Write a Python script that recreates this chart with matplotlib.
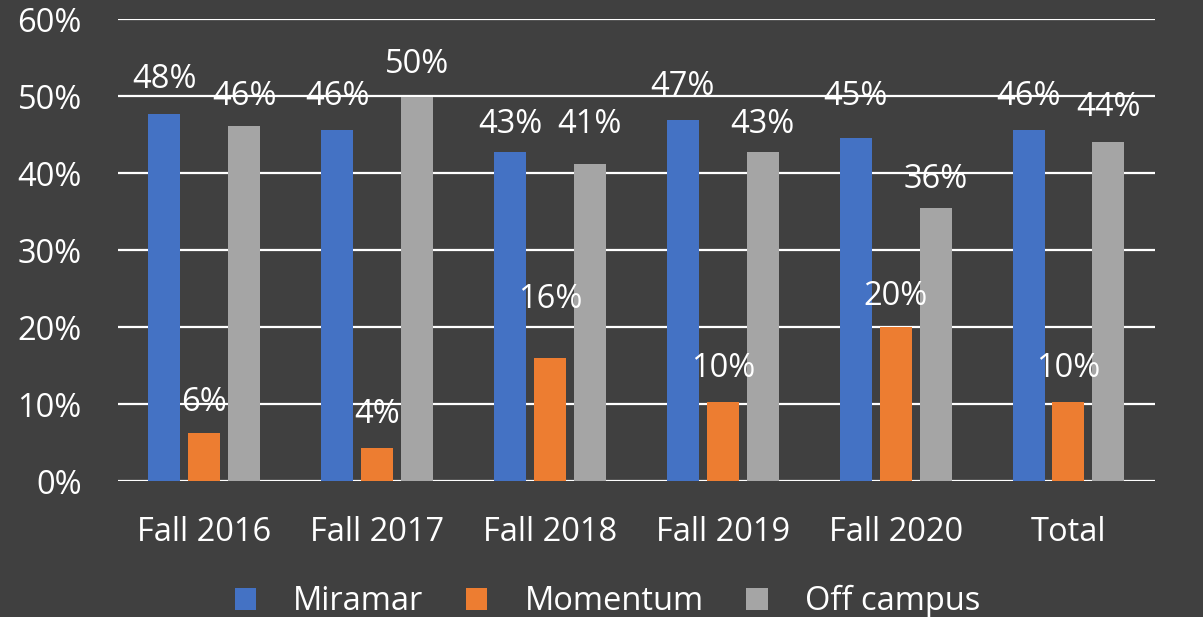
import matplotlib
matplotlib.use("Agg")
import matplotlib.pyplot as plt
import numpy as np

categories = ["Fall 2016", "Fall 2017", "Fall 2018", "Fall 2019", "Fall 2020", "Total"]
miramar    = [47.7, 45.6, 42.7, 46.9, 44.6, 45.6]
momentum   = [6.2, 4.3, 16.0, 10.3, 20.0, 10.3]
off_campus = [46.1, 49.9, 41.2, 42.7, 35.5, 44.0]
series_names = ["Miramar", "Momentum", "Off campus"]
yticks = [0, 10, 20, 30, 40, 50, 60]

# label nudges (points above bar top), roughly as dragged in the original
label_pad = [
    [25, 24, 20, 24, 30, 24],
    [22, 24, 42, 24, 22, 24],
    [21, 23, 28, 20, 20, 25],
]

BG = "#404040"
COLORS = ["#4472C4", "#ED7D31", "#A5A5A5"]
FONT = "Open Sans"
FS = 23.5

plt.rcParams["font.family"] = [FONT, "DejaVu Sans"]

fig = plt.figure(figsize=(12.03, 6.17), dpi=100, facecolor=BG)
ax = fig.add_axes([0.098, 0.2204, 0.862, 0.7486], facecolor=BG)

x = np.arange(len(categories))
width, step = 0.185, 0.231
for i, (name, vals) in enumerate(zip(series_names, [miramar, momentum, off_campus])):
    pos = x + (i - 1) * step
    ax.bar(pos, vals, width, color=COLORS[i], label=name, zorder=3)
    for j, (px, v) in enumerate(zip(pos, vals)):
        ax.annotate(f"{v:.0f}%", (px, v), xytext=(0, label_pad[i][j]),
                    textcoords="offset points", ha="center", va="center",
                    color="white", fontsize=FS, zorder=4)

ax.set_xlim(-0.5, len(categories) - 0.5)
ax.set_ylim(0, 60)
ax.set_yticks(yticks)
ax.set_yticklabels([f"{t}%" for t in yticks])
ax.set_xticks(x)
ax.set_xticklabels(categories)
ax.tick_params(axis="both", length=0, colors="white", labelsize=FS)
ax.tick_params(axis="y", pad=26)
ax.tick_params(axis="x", pad=25)
ax.grid(axis="y", color="white", lw=1.6, zorder=1)
for s in ax.spines.values():
    s.set_visible(False)

leg = fig.legend(loc="lower center", bbox_to_anchor=(0.505, -0.05), ncol=3,
                 frameon=False, fontsize=FS, handlelength=0.65, handleheight=0.65,
                 handletextpad=1.15, columnspacing=1.3, labelcolor="white")

fig.savefig("out.png", dpi=100, facecolor=BG)
